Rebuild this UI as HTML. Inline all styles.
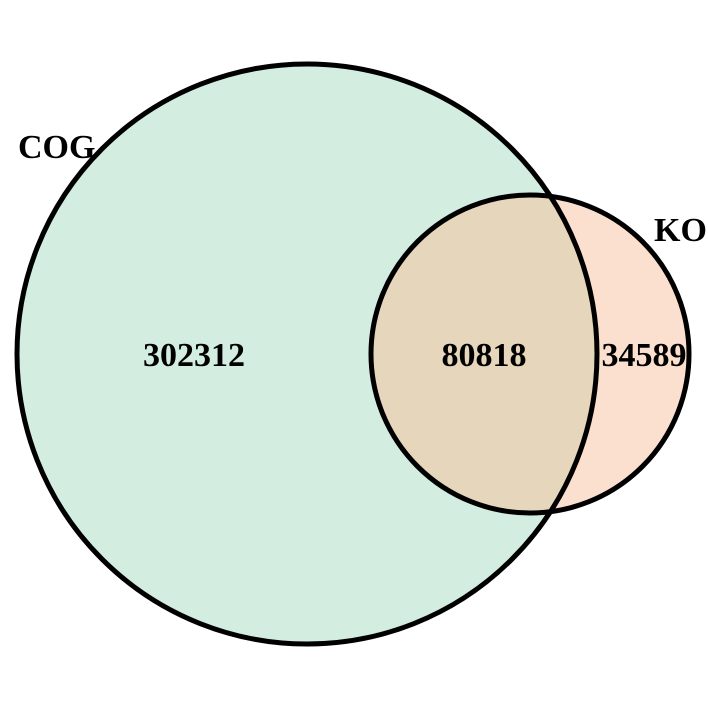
<!DOCTYPE html>
<html>
<head>
<meta charset="utf-8">
<style>
html,body{margin:0;padding:0;background:#fff;}
svg{display:block;}
text{font-family:"Liberation Serif",serif;font-weight:bold;font-size:34px;fill:#000;}
</style>
</head>
<body>
<svg id="chart" width="708" height="708" viewBox="0 0 708 708">
  <defs>
    <clipPath id="clipBig"><circle cx="307" cy="354" r="290"/></clipPath>
  </defs>
  <g id="g"></g>
</svg>
<script>
const setNames = ["COG", "KO"];
const regionCounts = [302312, 80818, 34589];
const circleCx = [307, 530];
const circleCy = [354, 354];
const circleR = [290, 159];
const fills = ["#d3ede1", "#fce0cf"];
const overlapFill = "#e6d6bc";

const NS = "http://www.w3.org/2000/svg";
const g = document.getElementById("g");
function mk(tag, attrs){const e=document.createElementNS(NS,tag);for(const k in attrs)e.setAttribute(k,attrs[k]);g.appendChild(e);return e;}

const c0 = mk("circle",{cx:circleCx[0],cy:circleCy[0],r:circleR[0],fill:fills[0]});


const c1 = mk("circle",{cx:circleCx[1],cy:circleCy[1],r:circleR[1],fill:fills[1]});


const ov = mk("circle",{cx:circleCx[1],cy:circleCy[1],r:circleR[1],fill:overlapFill,"clip-path":"url(#clipBig)"});


const s0 = mk("circle",{cx:circleCx[0],cy:circleCy[0],r:circleR[0],fill:"none",stroke:"#000","stroke-width":5});


const s1 = mk("circle",{cx:circleCx[1],cy:circleCy[1],r:circleR[1],fill:"none",stroke:"#000","stroke-width":5});



const leftEdgeSmall = circleCx[1]-circleR[1];
const rightEdgeBig = circleCx[0]+circleR[0];
const xs = [
  (circleCx[0]-circleR[0]+leftEdgeSmall)/2,
  (leftEdgeSmall+rightEdgeBig)/2,
  (rightEdgeBig+circleCx[1]+circleR[1])/2 + 1
];
regionCounts.forEach((v,i)=>{
  const t = mk("text",{x:xs[i],y:circleCy[0]+12,"text-anchor":"middle"});
  t.textContent = String(v);
  
  
});
const l0 = mk("text",{x:18,y:158});
l0.textContent = setNames[0];


const l1 = mk("text",{x:654,y:241});
l1.textContent = setNames[1];


</script>
</body>
</html>
